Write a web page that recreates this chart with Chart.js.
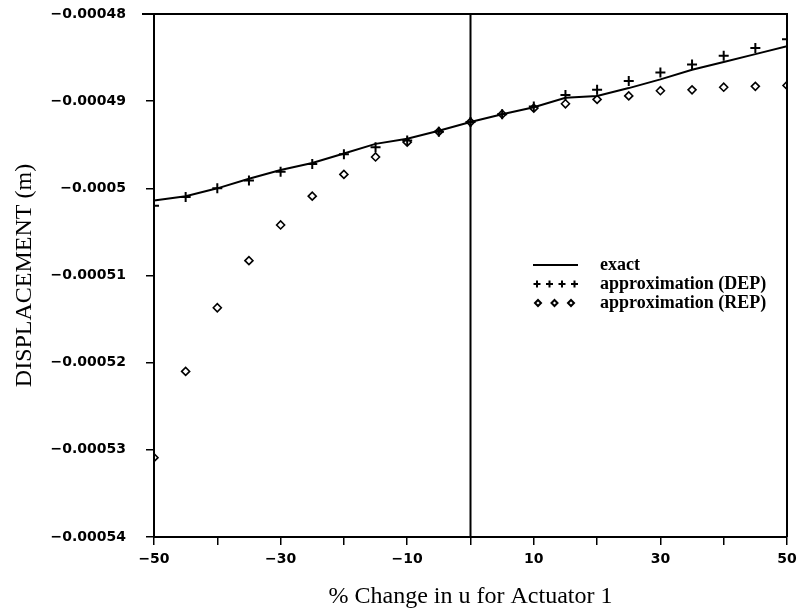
<!DOCTYPE html>
<html>
<head>
<meta charset="utf-8">
<script src="https://cdn.jsdelivr.net/npm/chart.js@4.4.1/dist/chart.umd.min.js"></script>
<style>
  body { margin: 0; background: #fff; }
  #wrap { width: 797px; height: 612px; position: relative; }
</style>
</head>
<body>
<div id="wrap"><canvas id="dispChart"></canvas></div>
<script>
// % change in u for actuator 1
const changePct = [-50, -45, -40, -35, -30, -25, -20, -15, -10, -5, 0, 5, 10, 15, 20, 25, 30, 35, 40, 45, 50];

// displacement (m)
const exactDisp = [
  -0.0005014, -0.0005009, -0.0005000, -0.0004989, -0.0004979, -0.0004971, -0.0004960,
  -0.0004949, -0.0004943, -0.0004934, -0.0004924, -0.0004915, -0.0004907, -0.0004896,
  -0.0004894, -0.0004885, -0.0004875, -0.0004864, -0.0004855, -0.0004846, -0.0004837
];
const depDisp = [
  -0.0005020, -0.0005010, -0.0005000, -0.0004991, -0.0004981, -0.0004972, -0.0004961,
  -0.0004953, -0.0004945, -0.0004935, -0.0004924, -0.0004915, -0.0004906, -0.0004893,
  -0.0004887, -0.0004877, -0.0004867, -0.0004858, -0.0004848, -0.0004839, -0.0004829
];
const repDisp = [
  -0.0005309, -0.0005210, -0.0005137, -0.0005083, -0.0005042, -0.0005009, -0.0004984,
  -0.0004964, -0.0004947, -0.0004935, -0.0004924, -0.0004915, -0.0004908, -0.0004903,
  -0.0004898, -0.0004894, -0.0004888, -0.0004887, -0.0004884, -0.0004883, -0.0004882
];

const xTickValues = [-50, -40, -30, -20, -10, 0, 10, 20, 30, 40, 50];
const xTickLabels = ['\u221250', '', '\u221230', '', '\u221210', '', '10', '', '30', '', '50'];
const yTickValues = [-0.00054, -0.00053, -0.00052, -0.00051, -0.0005, -0.00049, -0.00048];
const yTickLabels = ['\u22120.00054', '\u22120.00053', '\u22120.00052', '\u22120.00051', '\u22120.0005', '\u22120.00049', '\u22120.00048'];

const seriesNames = ['exact', 'approximation (DEP)', 'approximation (REP)'];

function pairs(ys) {
  return changePct.map((x, i) => ({ x: x, y: ys[i] }));
}

// box around the plot, plus the vertical line at 0 %
const framePlugin = {
  id: 'frame',
  beforeDatasetsDraw(chart) {
    const { ctx, chartArea: a, scales } = chart;
    const x0 = scales.x.getPixelForValue(0);
    ctx.save();
    ctx.strokeStyle = '#000';
    ctx.lineWidth = 2;
    ctx.beginPath();
    ctx.moveTo(a.left - 12, a.top);
    ctx.lineTo(a.right, a.top);
    ctx.lineTo(a.right, a.bottom);
    ctx.moveTo(x0, a.top);
    ctx.lineTo(x0, a.bottom);
    ctx.stroke();
    ctx.restore();
  }
};

// legend sits inside the plot, right of centre
const legendPlugin = {
  id: 'insideLegend',
  afterDatasetsDraw(chart) {
    const ctx = chart.ctx;
    const left = 533, textX = 600, top = 265, step = 19;
    ctx.save();
    ctx.strokeStyle = '#000';
    ctx.font = 'bold 18px "Liberation Serif"';
    ctx.textBaseline = 'middle';

    ctx.lineWidth = 2;
    ctx.beginPath();
    ctx.moveTo(left, top);
    ctx.lineTo(left + 45, top);
    ctx.stroke();

    ctx.fillStyle = 'rgba(0,0,0,0)';
    for (let k = 0; k < 4; k++) {
      Chart.helpers.drawPoint(ctx, { pointStyle: 'cross', radius: 3.5, borderWidth: 1.8 }, left + 4 + k * 12.5, top + step);
    }
    for (let k = 0; k < 3; k++) {
      Chart.helpers.drawPoint(ctx, { pointStyle: 'rectRot', radius: 3, borderWidth: 1.6 }, left + 5 + k * 16.5, top + 2 * step);
    }

    ctx.fillStyle = '#000';
    seriesNames.forEach((name, i) => ctx.fillText(name, textX, top + i * step));
    ctx.restore();
  }
};

const tickFont = { family: '"DejaVu Sans"', size: 14, weight: 'bold' };
const titleFont = { family: '"Liberation Serif"', size: 24 };

new Chart(document.getElementById('dispChart'), {
  type: 'scatter',
  data: {
    datasets: [
      {
        label: seriesNames[0],
        data: pairs(exactDisp),
        showLine: true,
        borderColor: '#000',
        borderWidth: 2,
        pointRadius: 0,
        tension: 0
      },
      {
        label: seriesNames[1],
        data: pairs(depDisp),
        showLine: false,
        pointStyle: 'cross',
        pointRadius: 5,
        pointBorderWidth: 2,
        borderColor: '#000',
        backgroundColor: '#000'
      },
      {
        label: seriesNames[2],
        data: pairs(repDisp),
        showLine: false,
        pointStyle: 'rectRot',
        pointRadius: 4,
        pointBorderWidth: 1.6,
        borderColor: '#000',
        backgroundColor: 'rgba(0,0,0,0)'
      }
    ]
  },
  options: {
    responsive: true,
    maintainAspectRatio: false,
    animation: false,
    layout: { padding: { top: 14, right: 10, left: 0, bottom: 0 } },
    plugins: {
      legend: { display: false },
      tooltip: { enabled: false }
    },
    scales: {
      x: {
        type: 'linear',
        min: -50,
        max: 50,
        afterBuildTicks: scale => { scale.ticks = xTickValues.map(v => ({ value: v })); },
        afterFit: scale => {
          scale.height = 75;
          scale.paddingLeft = 0;
          scale.paddingRight = 0;
        },
        grid: { drawOnChartArea: false, drawTicks: true, tickLength: 8, color: '#000', lineWidth: 1.5 },
        border: { display: true, color: '#000', width: 2 },
        ticks: {
          autoSkip: false,
          maxRotation: 0,
          padding: 6,
          color: '#000',
          font: tickFont,
          callback: (v, i) => xTickLabels[i]
        },
        title: {
          display: true,
          text: '% Change in u for Actuator 1',
          color: '#000',
          font: titleFont,
          padding: { top: 0, bottom: 1 }
        }
      },
      y: {
        type: 'linear',
        min: -0.00054,
        max: -0.00048,
        afterBuildTicks: scale => { scale.ticks = yTickValues.map(v => ({ value: v })); },
        afterFit: scale => {
          scale.width = 154;
          scale.paddingTop = 0;
          scale.paddingBottom = 0;
        },
        grid: { drawOnChartArea: false, drawTicks: true, tickLength: 8, color: '#000', lineWidth: 1.5 },
        border: { display: true, color: '#000', width: 2 },
        ticks: {
          autoSkip: false,
          padding: 20,
          color: '#000',
          font: tickFont,
          callback: (v, i) => yTickLabels[i]
        },
        title: {
          display: true,
          text: 'DISPLACEMENT (m)',
          color: '#000',
          font: titleFont,
          padding: { top: 10, bottom: 0 }
        }
      }
    }
  },
  plugins: [framePlugin, legendPlugin]
});
</script>
</body>
</html>
